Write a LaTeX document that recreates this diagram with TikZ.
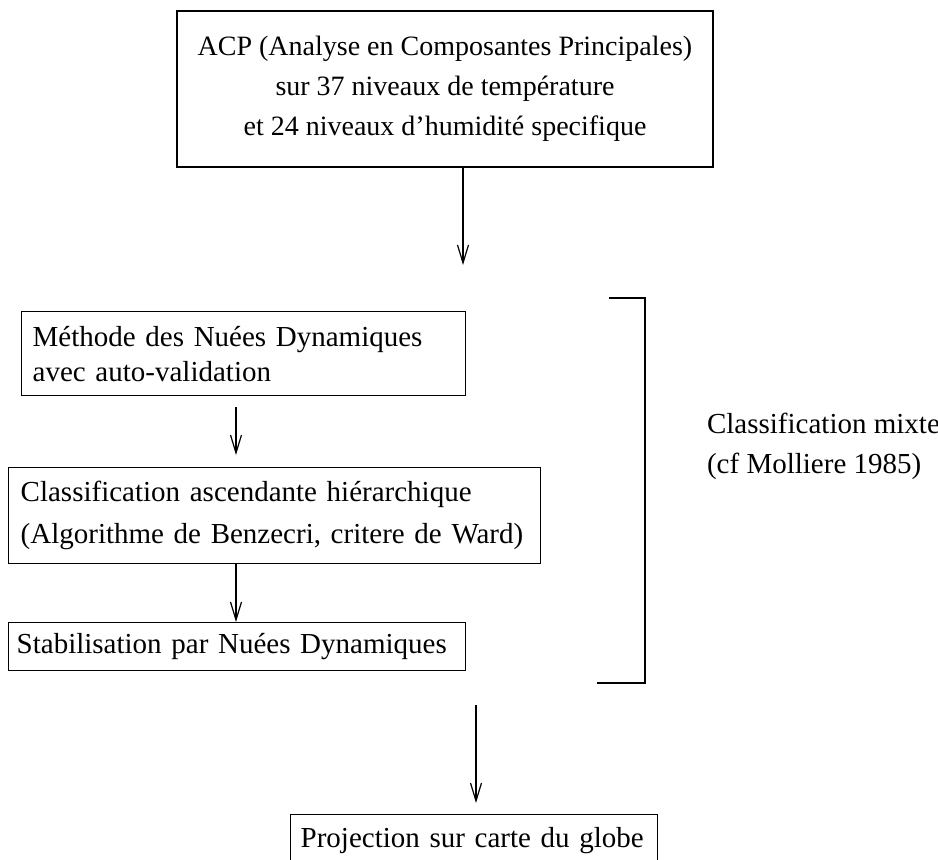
\documentclass[tikz,border=0pt]{standalone}
\usepackage{fontspec}
\setmainfont{Liberation Serif}
\usetikzlibrary{arrows.meta,positioning}

\begin{document}
\begin{tikzpicture}[
    x=0.5pt, y=-0.5pt,
    font=\fontsize{14.5}{20}\selectfont,
    box/.style={rectangle, draw, line width=0.7pt, inner ysep=0pt, anchor=north west},
    line/.style={draw, line width=0.6pt, -{Straight Barb[length=9pt,width=5.5pt]}}
]
    \clip (0,0) rectangle (938,859);
    \useasboundingbox (0,0) rectangle (938,859);

    % --- Boxes ---
    \node [box, anchor=center, minimum width=268pt, minimum height=78pt,
           inner xsep=0pt, align=center, font=\fontsize{14}{20}\selectfont] (acp) at (445,89)
        {ACP (Analyse en Composantes Principales)\\ sur 37 niveaux de température\\ et 24 niveaux d'humidité specifique};
    \node [box, minimum width=222pt, minimum height=42pt, text width=211pt,
           inner xsep=5.5pt, align=left, font=\fontsize{14.5}{17.5}\selectfont] (nuees) at (21,311)
        {Méthode des Nuées Dynamiques\\ avec auto-validation};
    \node [box, minimum width=266pt, minimum height=48pt, text width=254pt,
           inner xsep=6pt, align=left, font=\fontsize{14.5}{21}\selectfont] (cah) at (8,467)
        {Classification ascendante hiérarchique\\ (Algorithme de Benzecri, critere de Ward)};
    \node [box, minimum width=228.5pt, minimum height=24pt, text width=220.5pt,
           inner xsep=4pt, align=left] (stab) at (8,622)
        {Stabilisation par Nuées Dynamiques};
    \node [box, minimum width=183.5pt, minimum height=26pt, text width=173.5pt,
           inner xsep=5pt, align=left] (proj) at (290,814)
        {Projection sur carte du globe};

    % --- Side note ---
    \node [anchor=west, align=left] (mixte) at (700,446)
        {Classification mixte\\ (cf Molliere 1985)};

    % --- Free ends of the arrows ---
    \coordinate (acp_end) at (463,265);
    \coordinate (nuees_out) at (236,407);
    \coordinate (cah_in) at (236,455);
    \coordinate (proj_out) at (476,705);
    \coordinate (proj_in) at (476,803);

    % Paths
    \path [line] (acp.south -| acp_end) -- (acp_end);
    \path [line] (nuees_out) -- (cah_in);
    \path [line] (cah.south -| cah_in) -- (stab.north -| cah_in);
    \path [line] (proj_out) -- (proj_in);

    % Bracket
    \coordinate (br_top) at (609,298);
    \coordinate (br_bot) at (597,683);
    \draw [line width=0.7pt] (br_top) -- (645,298) -- (645,683) -- (br_bot);

\end{tikzpicture}
\end{document}
